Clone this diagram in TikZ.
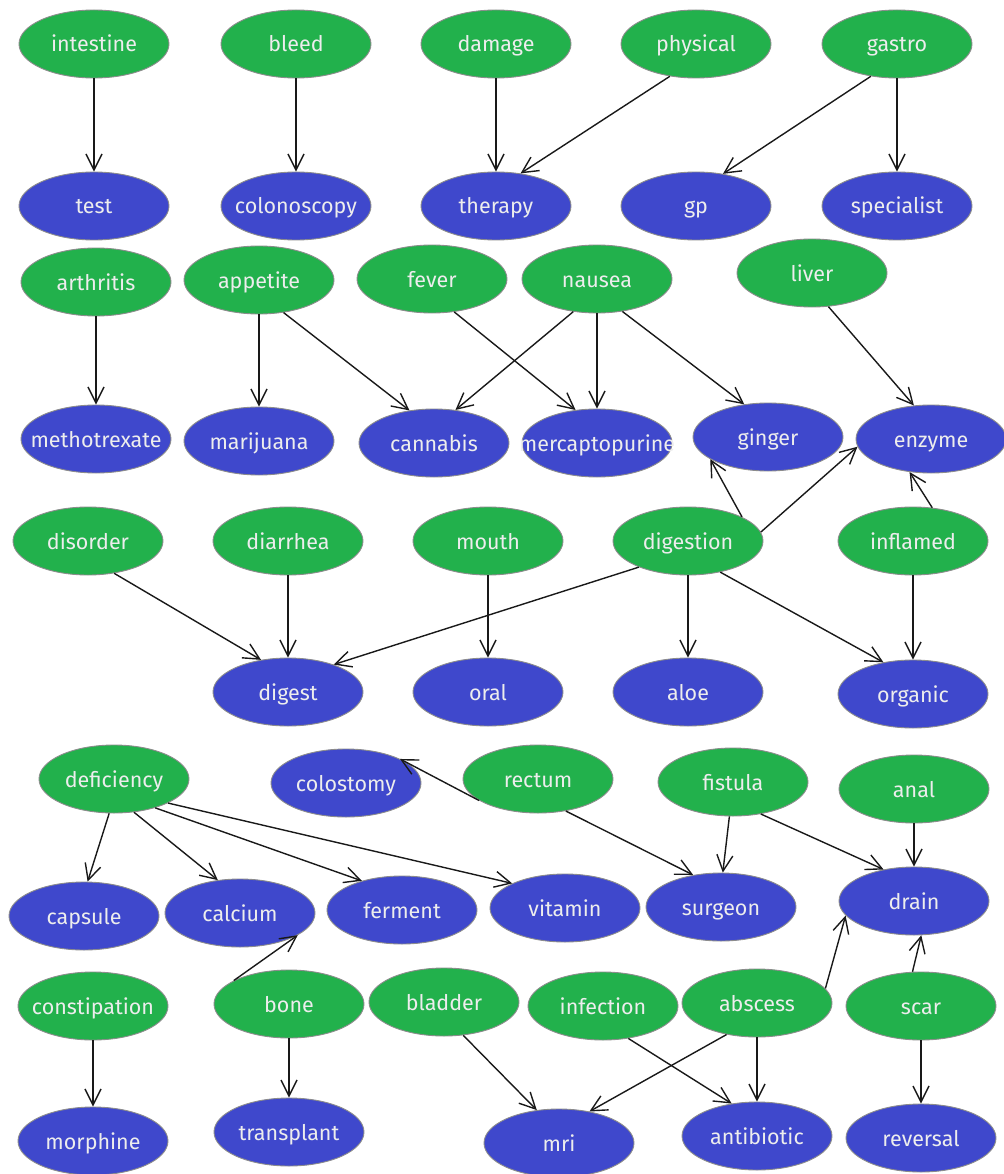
\documentclass[tikz,border=0pt]{standalone}
\usepackage{fontspec}
\setmainfont{Fira Sans}
\usetikzlibrary{arrows.meta,shapes.geometric}
\definecolor{causegreen}{RGB}{34,177,76}
\definecolor{effectblue}{RGB}{63,72,204}
\newcommand{\termtext}[1]{\makebox[0pt]{#1}}
\begin{document}
\begin{tikzpicture}[x=1pt,y=-1pt,
  term/.style={ellipse, minimum width=150pt, minimum height=68pt, inner sep=0pt,
    draw=black!45, line width=0.9pt, text=white!93!black,
    text height=16pt, text depth=0pt, font=\fontsize{21.5}{21.5}\selectfont},
  cause/.style={term, fill=causegreen},
  effect/.style={term, fill=effectblue},
  link/.style={line width=1.4pt, black!90,
    -{Straight Barb[length=16pt,width=16pt,line width=1.4pt]}}
]
\useasboundingbox (0,0) rectangle (1003,1174);

% first block
\node[cause]  (intestine)   at (94,44)  {\termtext{intestine}};
\node[cause]  (bleed)       at (296,44) {\termtext{bleed}};
\node[cause]  (damage)      at (496,44) {\termtext{damage}};
\node[cause]  (physical)    at (696,44) {\termtext{physical}};
\node[cause]  (gastro)      at (897,44) {\termtext{gastro}};
\node[effect] (test)        at (94,206)  {\termtext{test}};
\node[effect] (colonoscopy) at (296,206) {\termtext{colonoscopy}};
\node[effect] (therapy)     at (496,206) {\termtext{therapy}};
\node[effect] (gp)          at (696,206) {\termtext{gp}};
\node[effect] (specialist)  at (897,206) {\termtext{specialist}};

% second block
\node[cause]  (arthritis)      at (96,282)  {\termtext{arthritis}};
\node[cause]  (appetite)       at (259,280) {\termtext{appetite}};
\node[cause]  (fever)          at (432,279) {\termtext{fever}};
\node[cause]  (nausea)         at (597,279) {\termtext{nausea}};
\node[cause]  (liver)          at (812,273) {\termtext{liver}};
\node[effect] (methotrexate)   at (96,439)  {\termtext{methotrexate}};
\node[effect] (marijuana)      at (259,441) {\termtext{marijuana}};
\node[effect] (cannabis)       at (434,443) {\termtext{cannabis}};
\node[effect] (mercaptopurine) at (597,443) {\termtext{mercaptopurine}};
\node[effect] (ginger)         at (768,437) {\termtext{ginger}};
\node[effect] (enzyme)         at (931,439) {\termtext{enzyme}};

% third block
\node[cause]  (disorder)  at (88,541)  {\termtext{disorder}};
\node[cause]  (diarrhea)  at (288,541) {\termtext{diarrhea}};
\node[cause]  (mouth)     at (488,541) {\termtext{mouth}};
\node[cause]  (digestion) at (688,541) {\termtext{digestion}};
\node[cause]  (inflamed)  at (913,541) {\termtext{inflamed}};
\node[effect] (digest)    at (288,692) {\termtext{digest}};
\node[effect] (oral)      at (488,692) {\termtext{oral}};
\node[effect] (aloe)      at (688,692) {\termtext{aloe}};
\node[effect] (organic)   at (913,694) {\termtext{organic}};

% fourth block
\node[cause]  (deficiency) at (114,779) {\termtext{deficiency}};
\node[effect] (colostomy)  at (346,783) {\termtext{colostomy}};
\node[cause]  (rectum)     at (538,779) {\termtext{rectum}};
\node[cause]  (fistula)    at (733,782) {\termtext{fistula}};
\node[cause]  (anal)       at (914,789) {\termtext{anal}};
\node[effect] (capsule)    at (84,916)  {\termtext{capsule}};
\node[effect] (calcium)    at (240,913) {\termtext{calcium}};
\node[effect] (ferment)    at (402,910) {\termtext{ferment}};
\node[effect] (vitamin)    at (565,908) {\termtext{vitamin}};
\node[effect] (surgeon)    at (721,907) {\termtext{surgeon}};
\node[effect] (drain)      at (914,901) {\termtext{drain}};

% fifth block
\node[cause]  (constipation) at (93,1006)  {\termtext{constipation}};
\node[cause]  (bone)         at (289,1004) {\termtext{bone}};
\node[cause]  (bladder)      at (444,1002) {\termtext{bladder}};
\node[cause]  (infection)    at (603,1006) {\termtext{infection}};
\node[cause]  (abscess)      at (757,1003) {\termtext{abscess}};
\node[cause]  (scar)         at (921,1006) {\termtext{scar}};
\node[effect] (morphine)     at (93,1141)  {\termtext{morphine}};
\node[effect] (transplant)   at (289,1132) {\termtext{transplant}};
\node[effect] (mri)          at (559,1143) {\termtext{mri}};
\node[effect] (antibiotic)   at (757,1136) {\termtext{antibiotic}};
\node[effect] (reversal)     at (921,1138) {\termtext{reversal}};

% connectors
\draw[link] (intestine.south) -- (test.north);
\draw[link] (bleed.south) -- (colonoscopy.north);
\draw[link] (damage.south) -- (therapy.north);
\draw[link] (physical.231) -- (therapy.53);
\draw[link] (gastro.231) -- (gp.50);
\draw[link] (gastro.south) -- (specialist.north);

\draw[link] (arthritis.south) -- (methotrexate.north);
\draw[link] (appetite.south) -- (marijuana.north);
\draw[link] (appetite.307) -- (cannabis.127);
\draw[link] (fever.304) -- (mercaptopurine.123);
\draw[link] (nausea.234) -- (cannabis.57);
\draw[link] (nausea.south) -- (mercaptopurine.north);
\draw[link] (nausea.308) -- (ginger.126);
\draw[link] (liver.296) -- (enzyme.117);

\draw[link] (digestion.24) -- (ginger.201);
\draw[link] (digestion.7) -- (enzyme.186);
\draw[link] (inflamed.60) -- (enzyme.237);

\draw[link] (disorder.309) -- (digest.130);
\draw[link] (diarrhea.south) -- (digest.north);
\draw[link] (digestion.208) -- (digest.31);
\draw[link] (mouth.south) -- (oral.north);
\draw[link] (digestion.south) -- (aloe.north);
\draw[link] (digestion.316) -- (organic.133);
\draw[link] (inflamed.south) -- (organic.north);

\draw[link] (deficiency.262) -- (capsule.84);
\draw[link] (deficiency.301) -- (calcium.124);
\draw[link] (deficiency.325) -- (ferment.144);
\draw[link] (deficiency.336) -- (vitamin.155);
\draw[link] (rectum.200) -- (colostomy.24);
\draw[link] (rectum.311) -- (surgeon.131);
\draw[link] (fistula.264) -- (surgeon.87);
\draw[link] (fistula.311) -- (drain.134);
\draw[link] (anal.south) -- (drain.north);

\draw[link] (bone.157) -- (calcium.339);
\draw[link] (abscess.12) -- (drain.192);
\draw[link] (scar.104) -- (drain.282);

\draw[link] (constipation.south) -- (morphine.north);
\draw[link] (bone.south) -- (transplant.north);
\draw[link] (bladder.300) -- (mri.124);
\draw[link] (infection.308) -- (antibiotic.128);
\draw[link] (abscess.226) -- (mri.46);
\draw[link] (abscess.south) -- (antibiotic.north);
\draw[link] (scar.south) -- (reversal.north);
\end{tikzpicture}
\end{document}
